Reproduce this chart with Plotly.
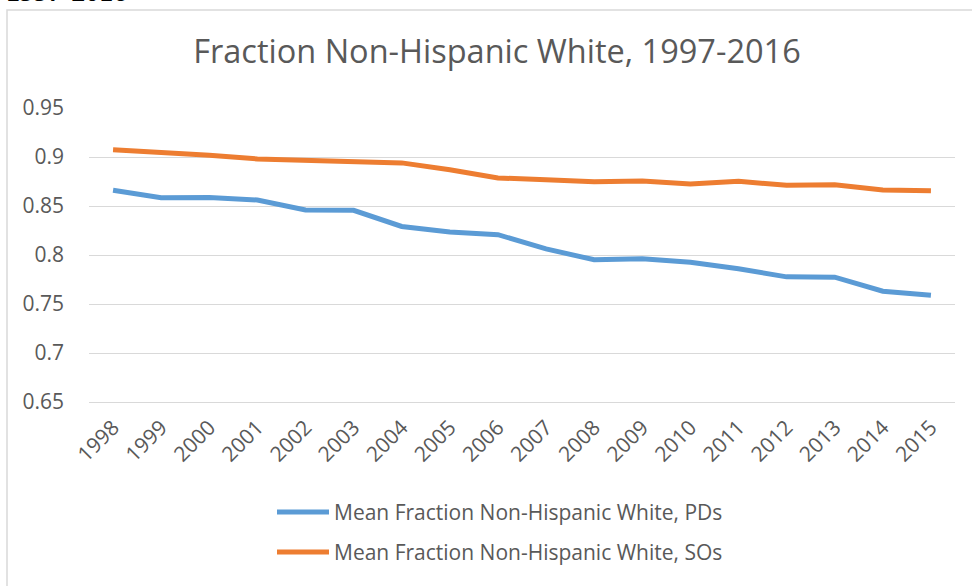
import plotly.graph_objects as go

years = [str(y) for y in range(1998, 2016)]
pds = [0.866, 0.8585, 0.8588, 0.8561, 0.8459, 0.8456, 0.8291, 0.8234, 0.8207,
       0.8063, 0.7951, 0.7961, 0.7927, 0.7859, 0.7777, 0.7774, 0.7631, 0.759]
sos = [0.9075, 0.9048, 0.9017, 0.898, 0.8963, 0.8953, 0.894, 0.887, 0.8786,
       0.8769, 0.8748, 0.8756, 0.8725, 0.8752, 0.8711, 0.8718, 0.8664, 0.8656]
ytick_vals = [0.65, 0.7, 0.75, 0.8, 0.85, 0.9, 0.95]
ytick_text = ["0.65", "0.7", "0.75", "0.8", "0.85", "0.9", "0.95"]
series_names = ["Mean Fraction Non-Hispanic White, PDs",
                "Mean Fraction Non-Hispanic White, SOs"]
series_colors = ["#5B9BD5", "#ED7D31"]

W, H = 972, 586
L, R, T, B = 89, 17, 108, 184
pw, ph = W - L - R, H - T - B

def px(x):
    return (x - L) / pw

def py(y):
    return (H - B - y) / ph

FONT = "Open Sans"
GRAY = "#595959"

fig = go.Figure()
for vals, name, col in zip([pds, sos], series_names, series_colors):
    fig.add_trace(go.Scatter(x=years, y=vals, mode="lines", name=name,
                             line=dict(color=col, width=5), showlegend=False))

shapes = [dict(type="rect", xref="paper", yref="paper",
               x0=px(7), x1=px(W + 20), y0=py(H + 20), y1=py(10),
               line=dict(color="#D9D9D9", width=1.5), fillcolor="rgba(0,0,0,0)",
               layer="below")]
annotations = [dict(text="<b>1997-2016</b>", xref="paper", yref="paper",
                    x=px(4), y=py(9), xanchor="left", yanchor="bottom",
                    showarrow=False,
                    font=dict(family="Liberation Serif", size=28, color="black"))]

# legend drawn as line samples + labels
for i, (name, col) in enumerate(zip(series_names, series_colors)):
    yy = 512 + 40 * i
    shapes.append(dict(type="line", xref="paper", yref="paper",
                       x0=px(277), x1=px(329), y0=py(yy), y1=py(yy),
                       line=dict(color=col, width=5)))
    annotations.append(dict(text=name, xref="paper", yref="paper",
                            x=px(332), y=py(yy), xanchor="left", yanchor="middle",
                            showarrow=False,
                            font=dict(family=FONT, size=21, color=GRAY)))

fig.update_layout(
    width=W, height=H,
    margin=dict(l=L, r=R, t=T, b=B),
    paper_bgcolor="white", plot_bgcolor="white",
    font=dict(family=FONT, color=GRAY),
    showlegend=False,
    title=dict(text="Fraction Non-Hispanic White, 1997-2016",
               font=dict(family=FONT, size=32.5, color=GRAY),
               x=px(497), xanchor="center", xref="paper",
               y=1 - 52 / H, yanchor="middle"),
    xaxis=dict(type="category", range=[-0.5, 17.5], tickangle=-45,
               tickfont=dict(size=21, color=GRAY), showgrid=False,
               showline=True, linecolor="#D9D9D9", linewidth=1,
               ticks="", ticklabelstandoff=4),
    yaxis=dict(range=[0.65, 0.95], tickvals=ytick_vals, ticktext=ytick_text,
               tickfont=dict(size=21, color=GRAY), showgrid=True,
               gridcolor="#D9D9D9", gridwidth=1, zeroline=False,
               showline=False, ticks="", ticklabelstandoff=24),
    shapes=shapes,
    annotations=annotations,
)

fig.write_html("out.html")
